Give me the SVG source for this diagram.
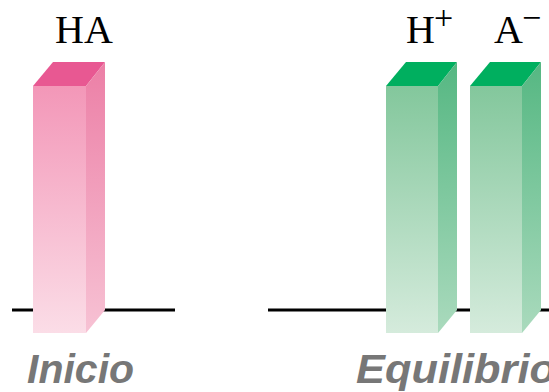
<svg xmlns="http://www.w3.org/2000/svg" width="549" height="392" viewBox="0 0 549 392">
<defs>
<linearGradient id="pf" x1="0" y1="0" x2="0" y2="1"><stop offset="0" stop-color="#F397B8"/><stop offset="1" stop-color="#FBDDE7"/></linearGradient>
<linearGradient id="ps" x1="0" y1="0" x2="0" y2="1"><stop offset="0" stop-color="#EC7FA6"/><stop offset="1" stop-color="#F7C2D4"/></linearGradient>
<linearGradient id="gf" x1="0" y1="0" x2="0" y2="1"><stop offset="0" stop-color="#83C79C"/><stop offset="1" stop-color="#D5EBDC"/></linearGradient>
<linearGradient id="gs" x1="0" y1="0" x2="0" y2="1"><stop offset="0" stop-color="#55B782"/><stop offset="1" stop-color="#AADABD"/></linearGradient>
<style>
.base{stroke:#000;stroke-width:3}
.lbl{font-family:"Liberation Serif",serif;font-size:40px;fill:#000}
.sup{font-size:34px}
.cap{font-family:"Liberation Sans",Arial,sans-serif;font-size:41px;font-weight:bold;font-style:italic;fill:#777}
</style>
</defs>
<g id="baselines">
<line class="base" x1="12" y1="310" x2="175" y2="310"/>
<line class="base" x1="268" y1="310" x2="549" y2="310"/>
</g>
<g id="bar-HA">
<polygon points="33,86 53,62 105,62 86,86" fill="#E85892"/>
<polygon points="86,86 105,62 105,310 86,333" fill="url(#ps)"/>
<rect x="33" y="86" width="53" height="247" fill="url(#pf)"/>
</g>
<g id="bar-H">
<polygon points="386,86 406,62 457,62 438,86" fill="#00AF5F"/>
<polygon points="438,86 457,62 457,310 438,333" fill="url(#gs)"/>
<rect x="386" y="86" width="52" height="247" fill="url(#gf)"/>
</g>
<g id="bar-A">
<polygon points="470,86 490,62 541,62 522,86" fill="#00AF5F"/>
<polygon points="522,86 541,62 541,310 522,333" fill="url(#gs)"/>
<rect x="470" y="86" width="52" height="247" fill="url(#gf)"/>
</g>
<g id="labels">
<text class="lbl" x="84" y="43" text-anchor="middle">HA</text>
<text class="lbl" x="406" y="43">H<tspan class="sup" dx="-1" dy="-14">+</tspan></text>
<text class="lbl" x="494" y="43">A<tspan class="sup" dx="-1" dy="-14">−</tspan></text>
<text class="cap" x="27" y="383">Inicio</text>
<text class="cap" x="356" y="383" textLength="200" lengthAdjust="spacingAndGlyphs">Equilibrio</text>
</g>
</svg>
